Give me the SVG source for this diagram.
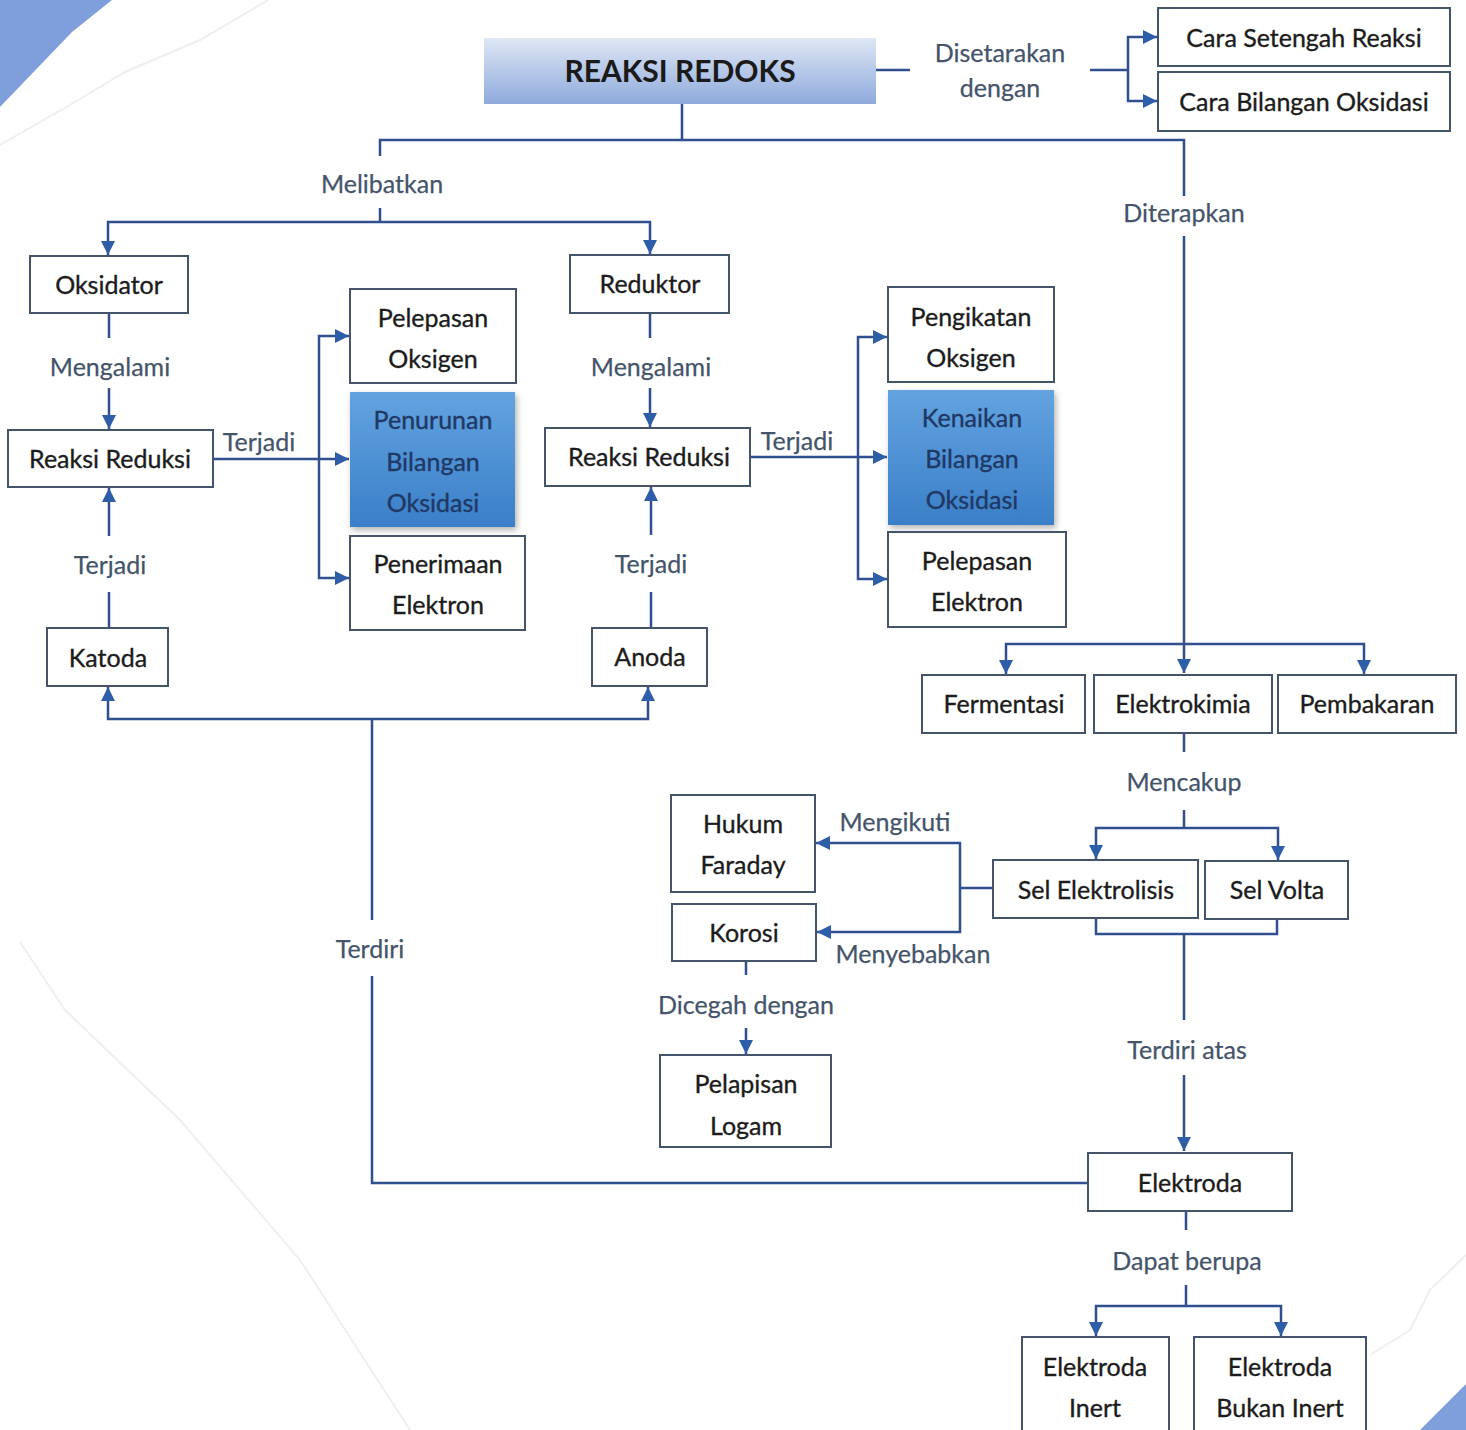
<svg xmlns="http://www.w3.org/2000/svg" width="1466" height="1430" viewBox="0 0 1466 1430">
<defs>
<linearGradient id="gTitle" x1="0" y1="0" x2="0" y2="1">
<stop offset="0" stop-color="#dfe7f5"/>
<stop offset="1" stop-color="#8eaadc"/>
</linearGradient>
<linearGradient id="gBlue" x1="0" y1="0" x2="0" y2="1">
<stop offset="0" stop-color="#63a3e0"/>
<stop offset="1" stop-color="#3a7fc8"/>
</linearGradient>
<filter id="sh" x="-10%" y="-10%" width="130%" height="130%">
<feDropShadow dx="2" dy="3" stdDeviation="3" flood-color="#000" flood-opacity="0.3"/>
</filter>
<marker id="ah" viewBox="0 0 12 12" refX="12" refY="6" markerWidth="14" markerHeight="14" markerUnits="userSpaceOnUse" orient="auto">
<path d="M0,0 L12,6 L0,12 z" fill="#2f5ea8"/>
</marker>
<style>
.box{fill:#fff;stroke:#44546a;stroke-width:2}
.t{font-family:Lato,"Open Sans","Liberation Sans",sans-serif;font-size:25px;fill:#1c1c1c;stroke:#1c1c1c;stroke-width:0.35;text-anchor:middle;dominant-baseline:central}
.lb{font-family:Lato,"Open Sans","Liberation Sans",sans-serif;font-size:25px;fill:#44546a;stroke:#44546a;stroke-width:0.25;text-anchor:middle;dominant-baseline:central}
.bt{fill:#1f3864;stroke:#1f3864}
.c{fill:none;stroke:#2f4f8f;stroke-width:2.5}
.a{marker-end:url(#ah)}
.deco{fill:none;stroke:#efefef;stroke-width:2}
</style>
</defs>
<rect width="1466" height="1430" fill="#fff"/>
<g id="decor">
<polygon points="0,0 112,0 72,32 0,107" fill="#7e9fdc"/>
<polygon points="1466,1384 1466,1430 1420,1430" fill="#7e9fdc"/>
<polyline class="deco" points="0,145 70,105 125,72 200,40 268,0"/>
<polyline class="deco" points="20,942 65,1010 180,1120 300,1260 410,1430"/>
<polyline class="deco" points="1370,1355 1410,1330 1430,1290 1466,1255"/>
</g>

<g id="connectors">
<path class="c" d="M876,70 H910"/>
<path class="c" d="M1090,70 H1128"/>
<path class="c a" d="M1128,70 V37 H1157"/>
<path class="c a" d="M1128,70 V101 H1157"/>
<path class="c" d="M682,104 V140"/>
<path class="c" d="M380,156 V140 H1184 V196"/>
<path class="c" d="M380,208 V222"/>
<path class="c a" d="M380,222 H108 V255"/>
<path class="c a" d="M380,222 H650 V254"/>
<path class="c a" d="M1184,236 V673"/>
<path class="c a" d="M1184,644 H1006 V674"/>
<path class="c a" d="M1184,644 H1364 V674"/>
<path class="c" d="M109,313 V338"/>
<path class="c a" d="M109,388 V429"/>
<path class="c" d="M109,628 V592"/>
<path class="c a" d="M109,536 V488"/>
<path class="c a" d="M213,459 H349"/>
<path class="c a" d="M319,459 V336 H349"/>
<path class="c a" d="M319,459 V578 H349"/>
<path class="c" d="M650,313 V338"/>
<path class="c a" d="M650,388 V427"/>
<path class="c" d="M651,628 V592"/>
<path class="c a" d="M651,535 V487"/>
<path class="c a" d="M750,457 H887"/>
<path class="c a" d="M858,457 V337 H887"/>
<path class="c a" d="M858,457 V579 H887"/>
<path class="c a" d="M372,719 H108 V687"/>
<path class="c a" d="M372,719 H648 V687"/>
<path class="c" d="M372,719 V920"/>
<path class="c" d="M372,976 V1183 H1088"/>
<path class="c" d="M1184,733 V752"/>
<path class="c" d="M1184,810 V828"/>
<path class="c a" d="M1184,828 H1096 V859"/>
<path class="c a" d="M1184,828 H1278 V860"/>
<path class="c" d="M1096,918 V934 H1277 V919"/>
<path class="c" d="M1184,934 V1020"/>
<path class="c a" d="M1184,1075 V1151"/>
<path class="c" d="M993,888 H960"/>
<path class="c a" d="M960,888 V843 H816"/>
<path class="c a" d="M960,888 V932 H817"/>
<path class="c" d="M746,961 V975"/>
<path class="c a" d="M746,1028 V1054"/>
<path class="c" d="M1186,1211 V1230"/>
<path class="c" d="M1186,1285 V1306"/>
<path class="c a" d="M1186,1306 H1096 V1336"/>
<path class="c a" d="M1186,1306 H1281 V1336"/>
</g>

<g id="labels">
<text class="lb" x="1000" y="52">Disetarakan</text>
<text class="lb" x="1000" y="87">dengan</text>
<text class="lb" x="382" y="183">Melibatkan</text>
<text class="lb" x="1184" y="212">Diterapkan</text>
<text class="lb" x="110" y="366">Mengalami</text>
<text class="lb" x="651" y="366">Mengalami</text>
<text class="lb" x="259" y="441">Terjadi</text>
<text class="lb" x="797" y="440">Terjadi</text>
<text class="lb" x="110" y="564">Terjadi</text>
<text class="lb" x="651" y="563">Terjadi</text>
<text class="lb" x="370" y="948">Terdiri</text>
<text class="lb" x="1184" y="781">Mencakup</text>
<text class="lb" x="895" y="821">Mengikuti</text>
<text class="lb" x="913" y="953">Menyebabkan</text>
<text class="lb" x="746" y="1004">Dicegah dengan</text>
<text class="lb" x="1187" y="1049">Terdiri atas</text>
<text class="lb" x="1187" y="1260">Dapat berupa</text>
</g>

<g id="n-title">
<rect x="484" y="38" width="392" height="66" fill="url(#gTitle)"/>
<text class="t" x="680" y="70" style="font-weight:bold;font-size:30px;fill:#1a1a1a;stroke-width:0">REAKSI REDOKS</text>
</g>
<g id="n-setengah"><rect class="box" x="1158" y="8" width="292" height="58"/><text class="t" x="1304" y="37">Cara Setengah Reaksi</text></g>
<g id="n-bilox"><rect class="box" x="1158" y="72" width="292" height="59"/><text class="t" x="1304" y="101">Cara Bilangan Oksidasi</text></g>

<g id="n-oksidator"><rect class="box" x="30" y="256" width="158" height="57"/><text class="t" x="109" y="284">Oksidator</text></g>
<g id="n-reduksi1"><rect class="box" x="8" y="430" width="205" height="57"/><text class="t" x="110" y="458">Reaksi Reduksi</text></g>
<g id="n-katoda"><rect class="box" x="47" y="628" width="121" height="58"/><text class="t" x="108" y="657">Katoda</text></g>
<g id="n-pelepasan-oks"><rect class="box" x="350" y="289" width="166" height="94"/><text class="t" x="433" y="317">Pelepasan</text><text class="t" x="433" y="358">Oksigen</text></g>
<g id="n-penurunan"><rect x="350" y="392" width="165" height="135" fill="url(#gBlue)" filter="url(#sh)"/><text class="t bt" x="433" y="419">Penurunan</text><text class="t bt" x="433" y="461">Bilangan</text><text class="t bt" x="433" y="502">Oksidasi</text></g>
<g id="n-penerimaan"><rect class="box" x="350" y="536" width="175" height="94"/><text class="t" x="438" y="563">Penerimaan</text><text class="t" x="438" y="604">Elektron</text></g>

<g id="n-reduktor"><rect class="box" x="570" y="255" width="159" height="58"/><text class="t" x="650" y="283">Reduktor</text></g>
<g id="n-reduksi2"><rect class="box" x="545" y="428" width="205" height="58"/><text class="t" x="649" y="456">Reaksi Reduksi</text></g>
<g id="n-anoda"><rect class="box" x="592" y="628" width="115" height="58"/><text class="t" x="650" y="656">Anoda</text></g>
<g id="n-pengikatan"><rect class="box" x="888" y="287" width="166" height="95"/><text class="t" x="971" y="316">Pengikatan</text><text class="t" x="971" y="357">Oksigen</text></g>
<g id="n-kenaikan"><rect x="888" y="390" width="166" height="135" fill="url(#gBlue)" filter="url(#sh)"/><text class="t bt" x="972" y="417">Kenaikan</text><text class="t bt" x="972" y="458">Bilangan</text><text class="t bt" x="972" y="499">Oksidasi</text></g>
<g id="n-pelepasan-el"><rect class="box" x="888" y="532" width="178" height="95"/><text class="t" x="977" y="560">Pelepasan</text><text class="t" x="977" y="601">Elektron</text></g>

<g id="n-fermentasi"><rect class="box" x="922" y="675" width="163" height="58"/><text class="t" x="1004" y="703">Fermentasi</text></g>
<g id="n-elektrokimia"><rect class="box" x="1094" y="675" width="178" height="58"/><text class="t" x="1183" y="703">Elektrokimia</text></g>
<g id="n-pembakaran"><rect class="box" x="1278" y="675" width="178" height="58"/><text class="t" x="1367" y="703">Pembakaran</text></g>

<g id="n-elektrolisis"><rect class="box" x="993" y="860" width="205" height="58"/><text class="t" x="1096" y="889">Sel Elektrolisis</text></g>
<g id="n-volta"><rect class="box" x="1205" y="861" width="143" height="58"/><text class="t" x="1277" y="889">Sel Volta</text></g>
<g id="n-faraday"><rect class="box" x="671" y="795" width="144" height="97"/><text class="t" x="743" y="823">Hukum</text><text class="t" x="743" y="864">Faraday</text></g>
<g id="n-korosi"><rect class="box" x="672" y="904" width="144" height="57"/><text class="t" x="744" y="932">Korosi</text></g>
<g id="n-pelapisan"><rect class="box" x="660" y="1055" width="171" height="92"/><text class="t" x="746" y="1083">Pelapisan</text><text class="t" x="746" y="1125">Logam</text></g>

<g id="n-elektroda"><rect class="box" x="1088" y="1153" width="204" height="58"/><text class="t" x="1190" y="1182">Elektroda</text></g>
<g id="n-inert"><rect class="box" x="1022" y="1337" width="147" height="100"/><text class="t" x="1095" y="1366">Elektroda</text><text class="t" x="1095" y="1407">Inert</text></g>
<g id="n-bukan-inert"><rect class="box" x="1194" y="1337" width="172" height="100"/><text class="t" x="1280" y="1366">Elektroda</text><text class="t" x="1280" y="1407">Bukan Inert</text></g>
</svg>
